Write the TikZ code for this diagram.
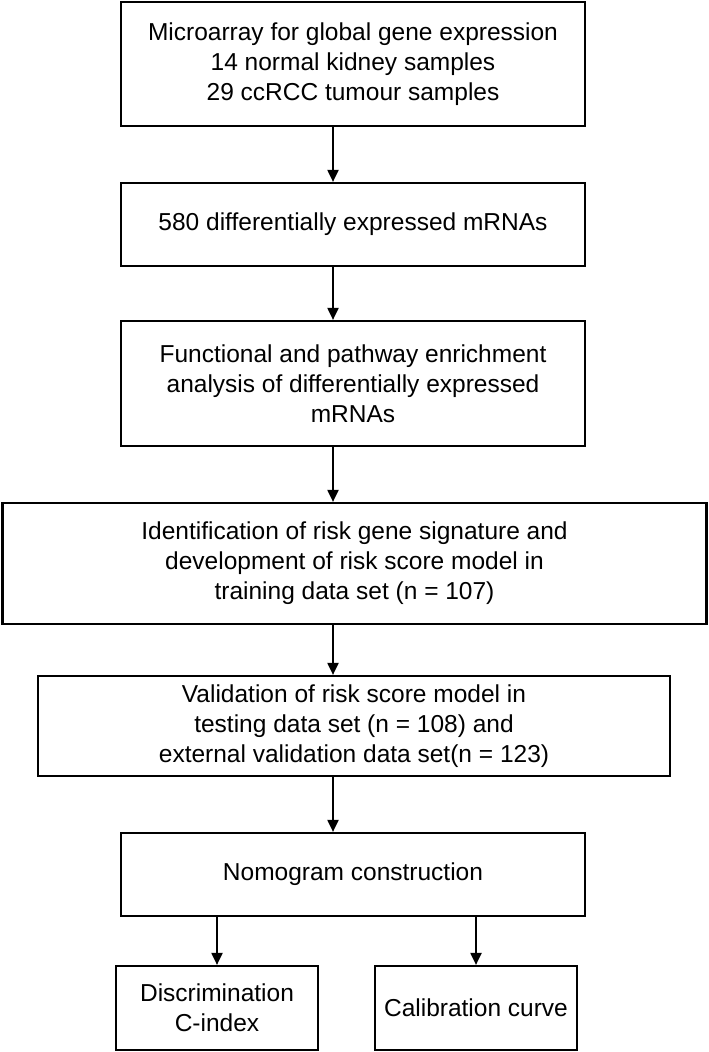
\documentclass[tikz,border=0pt]{standalone}
\usepackage{fontspec}
\setmainfont{Liberation Sans}
\usetikzlibrary{arrows.meta}
\tikzset{
  stepbox/.style={draw, line width=2.2pt, align=center, inner sep=0pt,
    font=\fontsize{24.5}{30}\selectfont},
  flow/.style={-{Triangle[length=12pt,width=11pt]}, line width=2pt}
}
\begin{document}
\begin{tikzpicture}[x=1pt,y=-1pt]
  \useasboundingbox (0,0) rectangle (709,1052);
  \coordinate (axis) at (333,0);
  \node (micro) [stepbox, minimum width=464pt, minimum height=124pt] at (353,64)
    {Microarray for global gene expression\\14 normal kidney samples\\29 ccRCC tumour samples};
  \node (degs) [stepbox, minimum width=464pt, minimum height=83pt] at (353,224.5)
    {580 differentially expressed mRNAs};
  \node (enrich) [stepbox, minimum width=464pt, minimum height=125pt] at (353,383.5)
    {Functional and pathway enrichment\\analysis of differentially expressed\\mRNAs};
  \node (risk) [stepbox, minimum width=704pt, minimum height=121pt] at (354.5,563.5)
    {Identification of risk gene signature and\\development of risk score model in\\training data set (n = 107)};
  \node (valid) [stepbox, minimum width=632pt, minimum height=100pt] at (354,726)
    {Validation of risk score model in\\testing data set (n = 108) and\\external validation data set(n = 123)};
  \node (nomo) [stepbox, minimum width=464pt, minimum height=83pt] at (353,874.5)
    {Nomogram construction};
  \node (discr) [stepbox, minimum width=202pt, minimum height=84pt] at (217,1008)
    {Discrimination\\C-index};
  \node (calib) [stepbox, minimum width=202pt, minimum height=84pt] at (476,1008)
    {Calibration curve};
  \draw[flow] (micro.south -| axis) -- (degs.north -| axis);
  \draw[flow] (degs.south -| axis) -- (enrich.north -| axis);
  \draw[flow] (enrich.south -| axis) -- (risk.north -| axis);
  \draw[flow] (risk.south -| axis) -- (valid.north -| axis);
  \draw[flow] (valid.south -| axis) -- (nomo.north -| axis);
  \draw[flow] (nomo.south -| discr.north) -- (discr.north);
  \draw[flow] (nomo.south -| calib.north) -- (calib.north);
\end{tikzpicture}
\end{document}
